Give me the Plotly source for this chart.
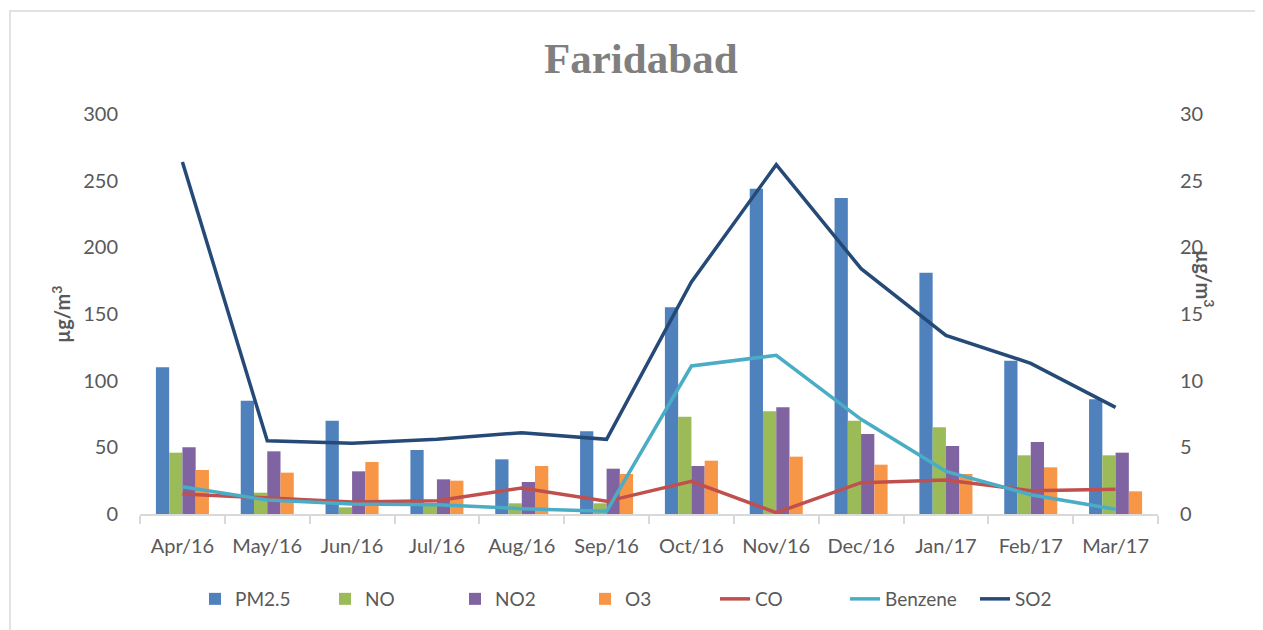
import plotly.graph_objects as go

months = ["Apr/16", "May/16", "Jun/16", "Jul/16", "Aug/16", "Sep/16",
          "Oct/16", "Nov/16", "Dec/16", "Jan/17", "Feb/17", "Mar/17"]
pm25 = [110, 85, 70, 48, 41, 62, 155, 244, 237, 181, 115, 86]
no = [46, 16, 5, 8, 8, 8, 73, 77, 70, 65, 44, 44]
no2 = [50, 47, 32, 26, 24, 34, 36, 80, 60, 51, 54, 46]
o3 = [33, 31, 39, 25, 36, 30, 40, 43, 37, 30, 35, 17]
co = [1.5, 1.2, 0.9, 1.0, 1.95, 0.95, 2.45, 0.1, 2.35, 2.55, 1.75, 1.85]
benzene = [2.05, 1.05, 0.75, 0.7, 0.4, 0.2, 11.1, 11.9, 7.1, 3.2, 1.45, 0.35]
so2 = [26.4, 5.5, 5.3, 5.6, 6.1, 5.6, 17.4, 26.2, 18.4, 13.4, 11.3, 8.0]

FONT = "Lato"
TXT = "#595959"

fig = go.Figure()
for name, vals, col in [("PM2.5", pm25, "#4f81bd"), ("NO", no, "#9bbb59"),
                        ("NO2", no2, "#8064a2"), ("O3", o3, "#f79646")]:
    fig.add_trace(go.Bar(x=months, y=vals, name=name, marker_color=col,
                         marker_line_width=0))
for name, vals, col in [("CO", co, "#c0504d"), ("Benzene", benzene, "#4bacc6"),
                        ("SO2", so2, "#264a78")]:
    fig.add_trace(go.Scatter(x=months, y=vals, name=name, yaxis="y2", mode="lines",
                             line=dict(color=col, width=3.5)))

OFF = 8  # page body margin
W, H = 1263 - OFF, 630 - OFF
# target screen coordinates of plot area
SL, SR, ST, SB = 140, 1158, 114, 514
L = SL - OFF
T = ST - OFF
R = W - (SR - OFF)
B = H - (SB - OFF)
pw = SR - SL
ph = SB - ST

def px(x):
    return (x - SL) / pw

def py(y):
    return (SB - y) / ph

fig.update_layout(
    width=W, height=H,
    margin=dict(l=L, r=R, t=T, b=B, pad=0),
    paper_bgcolor="white", plot_bgcolor="white",
    barmode="group", bargap=0.375, bargroupgap=0,
    font=dict(family=FONT, size=20, color=TXT),
    xaxis=dict(showline=True, linecolor="#d9d9d9", linewidth=1.5,
               ticks="outside", tickson="boundaries", ticklen=8, tickcolor="#d9d9d9",
               tickwidth=1.5, showgrid=False, ticklabelstandoff=13,
               tickfont=dict(family=FONT, size=20, color=TXT)),
    yaxis=dict(range=[0, 300], dtick=50, showgrid=False, zeroline=False,
               showline=False, ticklabelstandoff=21,
               tickfont=dict(family=FONT, size=20, color=TXT)),
    yaxis2=dict(range=[0, 30], dtick=5, overlaying="y", side="right",
                showgrid=False, zeroline=False, showline=False,
                ticklabelstandoff=21,
                tickfont=dict(family=FONT, size=20, color=TXT)),
    legend=dict(orientation="h", x=px(650), xanchor="center", y=py(599),
                yanchor="middle", font=dict(family=FONT, size=19, color=TXT),
                traceorder="normal", itemwidth=30, entrywidth=85,
                entrywidthmode="pixels"),
    showlegend=True,
)

fig.add_annotation(text="<b>Faridabad</b>", xref="paper", yref="paper",
                   x=px(641), y=py(58), showarrow=False,
                   xanchor="center", yanchor="middle",
                   font=dict(family="Liberation Serif", size=43, color="#7f7f7f"))
fig.add_annotation(text="<b>µg/m<sup>3</sup></b>", xref="paper", yref="paper",
                   x=px(61), y=py(315), showarrow=False, textangle=-90,
                   xanchor="center", yanchor="middle",
                   font=dict(family=FONT, size=20, color=TXT))
fig.add_annotation(text="<b>µg/m<sup>3</sup></b>", xref="paper", yref="paper",
                   x=px(1205), y=py(278), showarrow=False, textangle=90,
                   xanchor="center", yanchor="middle",
                   font=dict(family=FONT, size=20, color=TXT))
fig.add_shape(type="rect", xref="paper", yref="paper",
              x0=px(10), x1=px(1256), y0=py(660), y1=py(11),
              line=dict(color="#d9d9d9", width=1.5), fillcolor="rgba(0,0,0,0)",
              layer="below")

fig.write_html("out.html")
